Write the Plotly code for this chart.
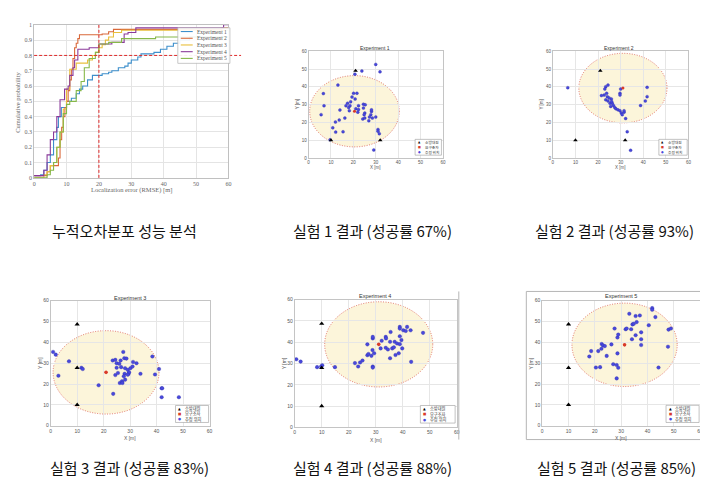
import plotly.graph_objects as go

W, H = 708, 479

# ---- CDF data (step curves) ----
exp1_x = [0, 2, 3, 4, 5, 6, 7, 7.5, 8.4, 10, 11.5, 13, 14, 15, 16.5, 18, 21, 23, 24, 26, 28, 29, 30, 32, 33, 37, 39, 41, 43, 45, 48, 60]
exp1_y = [0.015, 0.02, 0.05, 0.1, 0.15, 0.25, 0.33, 0.4, 0.46, 0.5, 0.52, 0.55, 0.58, 0.6, 0.64, 0.67, 0.68, 0.69, 0.70, 0.72, 0.73, 0.75, 0.77, 0.79, 0.81, 0.82, 0.84, 0.86, 0.88, 0.9, 0.92, 0.92]
exp2_x = [0, 4, 5, 7.5, 8, 8.5, 9, 9.5, 10, 10.5, 11, 11.5, 12, 12.5, 13, 13.5, 14, 21, 23, 24.5, 58, 60]
exp2_y = [0.015, 0.04, 0.08, 0.13, 0.25, 0.33, 0.4, 0.46, 0.5, 0.57, 0.64, 0.71, 0.78, 0.85, 0.88, 0.91, 0.935, 0.94, 0.955, 0.97, 0.98, 0.98]
exp3_x = [0, 3, 4, 5, 6, 7, 8, 9, 10, 11, 13, 16.5, 18, 19, 20, 21, 22, 23, 24.5, 27, 60]
exp3_y = [0.0, 0.02, 0.04, 0.08, 0.1, 0.2, 0.3, 0.45, 0.58, 0.71, 0.75, 0.77, 0.8, 0.82, 0.85, 0.87, 0.9, 0.92, 0.95, 0.965, 0.965]
exp4_x = [0, 3, 4, 5, 6, 7, 8, 9.4, 10.5, 11, 12, 12.5, 13.5, 17, 20, 24, 27.8, 29, 31.4, 58.5, 60]
exp4_y = [0.015, 0.05, 0.15, 0.25, 0.3, 0.4, 0.51, 0.58, 0.6, 0.67, 0.72, 0.77, 0.84, 0.85, 0.875, 0.885, 0.94, 0.95, 0.98, 1.0, 1.0]
exp5_x = [0, 4, 5, 6, 7, 8, 9, 10, 11, 13, 14.5, 15.5, 17, 18.9, 20, 23, 27, 37.5, 60]
exp5_y = [0.0, 0.02, 0.05, 0.1, 0.2, 0.3, 0.42, 0.48, 0.5, 0.57, 0.63, 0.72, 0.78, 0.82, 0.875, 0.885, 0.91, 0.92, 0.92]

cdf_names = ["Experiment 1", "Experiment 2", "Experiment 3", "Experiment 4", "Experiment 5"]
cdf_colors = ["#3d8fcc", "#d9683a", "#e8bf3c", "#8a3a9a", "#86b84a"]

# ---- scatter data ----
ff_x = [[21, 10, 32], [21, 10, 32], [10, 10, 10], [10, 10, 10], [10, 10, 10]]
ff_y = [[49, 10, 10], [49, 10, 10], [48.6, 27.8, 10], [48.7, 28, 10], [48.6, 27.8, 10]]
victim_x = [20.5, 31, 20.9, 31.1, 31.3]
victim_y = [26.3, 39.3, 25.6, 39.0, 38.8]
radius = [20, 19.5, 20, 20, 20]

est1_x = [30.0, 31.9, 23.8, 20.7, 13.1, 6.6, 6.9, 5.6, 10.8, 9.6, 12.1, 15.4, 12.0, 13.7, 14.0, 16.2, 16.7, 17.4, 17.9, 18.2,
          18.8, 18.5, 19.4, 20.1, 20.8, 21.6, 21.1, 22.3, 22.3, 22.0, 24.5, 25.3, 24.5, 25.1, 24.8, 24.2, 25.1, 28.1, 27.8,
          28.1, 27.2, 26.9, 28.5, 30.0, 31.0, 31.0, 31.6, 29.1]
est1_y = [52.6, 48.4, 48.9, 47.1, 41.0, 36.2, 29.4, 24.4, 17.0, 10.3, 14.6, 14.8, 20.3, 21.4, 27.0, 22.5, 29.4, 30.8, 28.4, 26.6,
          31.6, 29.4, 34.3, 36.4, 33.2, 36.4, 27.7, 29.4, 27.3, 25.8, 30.3, 29.9, 28.1, 25.3, 24.4, 22.0, 22.5, 26.2, 24.4,
          27.1, 23.1, 21.0, 22.5, 23.1, 16.1, 15.1, 13.7, 4.6]
est2_x = [6.6, 24.4, 23.4, 23.0, 21.5, 22.7, 23.8, 24.1, 23.4, 24.4, 25.3, 25.9, 26.3, 25.6, 26.8, 27.4, 27.9, 28.8, 29.7, 30.3,
          30.7, 31.5, 31.5, 29.7, 29.7, 30.0, 32.2, 32.9, 34.4, 38.8, 40.9, 41.7, 41.7, 24.9, 26.0]
est2_y = [39.5, 41.0, 40.1, 38.8, 35.1, 35.4, 36.4, 34.5, 32.7, 32.1, 30.8, 33.2, 30.8, 29.0, 29.5, 28.4, 27.7, 27.1, 26.6, 25.3,
          24.4, 25.8, 26.6, 36.4, 35.4, 38.8, 22.2, 14.8, 4.4, 29.5, 32.1, 34.5, 39.7, 33.8, 31.8]
est3_x = [0.9, 1.9, 2.9, 6.9, 11.6, 12.1, 18.1, 23.6, 23.4, 24.4, 24.9, 24.9, 24.4, 25.4, 25.9, 26.4, 26.6, 26.1, 26.9, 27.1,
          27.4, 27.8, 28.1, 27.9, 27.6, 28.1, 28.6, 29.1, 29.4, 29.6, 29.1, 30.1, 30.9, 31.1, 32.4, 33.9, 38.4, 39.4, 40.9,
          41.9, 42.1, 41.9, 48.4]
est3_y = [35.4, 34.1, 24.0, 30.9, 27.8, 27.2, 19.4, 15.3, 31.3, 31.6, 30.0, 27.8, 24.3, 25.3, 29.7, 31.3, 28.1, 20.5, 21.3, 20.5,
          35.4, 32.4, 27.6, 24.9, 23.7, 22.1, 32.2, 26.8, 24.9, 25.6, 24.5, 27.6, 28.4, 30.6, 30.0, 24.9, 33.2, 24.6, 27.2,
          18.0, 18.0, 13.7, 13.7]
est4_x = [0.6, 2.2, 8.3, 9.8, 10.2, 14.9, 22.3, 23.5, 24.2, 25.1, 26.9, 27.3, 26.9, 28.4, 28.8, 28.9, 28.9, 28.9, 28.9, 29.4,
          32.2, 31.8, 33.7, 33.8, 33.7, 34.5, 35.3, 35.5, 35.3, 36.1, 36.7, 37.0, 37.3, 37.9, 38.5, 38.9, 38.9, 38.9, 38.9,
          39.5, 39.8, 40.2, 41.1, 41.6, 42.9, 43.1, 47.5]
est4_y = [32.0, 30.9, 28.3, 28.6, 29.2, 28.3, 30.2, 28.6, 30.5, 31.4, 33.9, 34.5, 39.0, 33.6, 36.3, 41.8, 42.5, 28.6, 28.1, 34.8,
          40.7, 37.1, 42.5, 41.8, 37.4, 36.6, 40.2, 44.8, 32.5, 37.1, 37.6, 40.2, 34.0, 39.4, 34.8, 47.2, 46.4, 42.8, 39.1,
          41.0, 37.1, 45.6, 45.3, 47.2, 45.6, 30.8, 44.4]
est5_x = [17.9, 18.6, 20.4, 21.3, 22.0, 22.6, 22.5, 23.1, 23.8, 24.5, 26.3, 27.0, 27.5, 28.3, 28.6, 28.9, 28.6, 28.9, 28.3, 31.7,
          32.1, 33.1, 33.8, 34.1, 34.3, 34.8, 35.5, 35.5, 35.9, 37.1, 37.6, 37.6, 37.6, 40.5, 41.8, 41.8, 43.0, 44.2, 47.8,
          48.0, 48.9]
est5_y = [33.2, 35.8, 27.9, 35.8, 28.1, 39.2, 36.9, 38.5, 38.2, 33.5, 39.0, 29.5, 46.6, 29.1, 42.3, 43.7, 34.7, 27.8, 22.7, 46.3,
          46.6, 53.7, 46.3, 41.5, 48.6, 48.9, 52.6, 43.4, 49.7, 52.9, 44.8, 41.5, 38.7, 48.2, 56.4, 55.6, 52.1, 27.9, 37.9,
          46.1, 46.6]
est_x = [est1_x, est2_x, est3_x, est4_x, est5_x]
est_y = [est1_y, est2_y, est3_y, est4_y, est5_y]

legend_labels = ["소방대원", "요구조자", "추정 위치"]
captions = ["누적오차분포 성능 분석", "실험 1 결과 (성공률 67%)", "실험 2 결과 (성공률 93%)",
            "실험 3 결과 (성공률 83%)", "실험 4 결과 (성공률 88%)", "실험 5 결과 (성공률 85%)"]


def px(x):
    return x / W


def py(y):
    return 1 - y / H


def note(text, x, y, size, color, family, xanchor="center", **kw):
    # text placed by pixel position
    return dict(text=text, xref="paper", yref="paper", x=px(x), y=py(y), xanchor=xanchor, yanchor="middle",
                showarrow=False, font=dict(family=family, size=size, color=color), **kw)


# axis boxes in pixels: left, right, top, bottom
cdf_box = (24.3, 220, 14, 169)
scatter_boxes = [(300.7, 436, 40.7, 149), (546.7, 683.3, 40.7, 149),
                 (41, 201, 293.3, 420), (286.7, 450, 292.3, 421.7), (536, 695, 293.3, 420)]
title_pos = [(368, 37.5), (613, 37.5), (121, 290.5), (368, 289), (615, 289)]
legend_boxes = [(408, 434.5, 130, 146), (653.5, 682, 130, 146), (166.7, 200, 399.5, 416.7),
                (413.3, 448.3, 399.5, 417.3), (660.7, 694, 399.3, 416.7)]

serif = "Liberation Serif"
sans = "Liberation Sans"
kr = "Noto Sans CJK KR"
red_dash = "#e02828"

fig = go.Figure()

cdf_xs = [exp1_x, exp2_x, exp3_x, exp4_x, exp5_x]
cdf_ys = [exp1_y, exp2_y, exp3_y, exp4_y, exp5_y]
for name, color, xs, ys in zip(cdf_names, cdf_colors, cdf_xs, cdf_ys):
    fig.add_trace(go.Scatter(x=xs, y=ys, name=name, mode="lines", line=dict(color=color, width=1.1, shape="hv"),
                             xaxis="x", yaxis="y", showlegend=False))

layout = dict(width=W, height=H, margin=dict(l=0, r=0, t=0, b=0), paper_bgcolor="white",
              plot_bgcolor="white", showlegend=False)

cdf_axis = dict(showgrid=True, gridcolor="#e4e4e4", gridwidth=0.6, showline=True, linecolor="#c0c0c0",
                linewidth=0.7, mirror=True, zeroline=False, ticks="", ticklen=0,
                tickfont=dict(family=serif, size=6, color="#666"))
l, r, t, b = cdf_box
layout["xaxis"] = dict(domain=[px(l), px(r)], range=[0, 60], dtick=10, anchor="y", **cdf_axis)
layout["yaxis"] = dict(domain=[py(b), py(t)], range=[0, 1], dtick=0.1, anchor="x", **cdf_axis)

shapes = []
annotations = []

# reference lines
shapes.append(dict(type="line", xref="x", yref="y", x0=20, x1=20, y0=0, y1=1,
                   line=dict(color=red_dash, width=1, dash="3px,2px")))
shapes.append(dict(type="line", xref="x domain", yref="y", x0=0, x1=1.065, y0=0.8, y1=0.8,
                   line=dict(color=red_dash, width=1, dash="3px,2px")))

# CDF legend
shapes.append(dict(type="rect", xref="paper", yref="paper", x0=px(169), x1=px(221.5), y0=py(53), y1=py(17),
                   line=dict(color="#b0b0b0", width=0.7), fillcolor="rgba(255,255,255,0.92)", layer="above"))
for i, (name, color) in enumerate(zip(cdf_names, cdf_colors)):
    yy = 20.8 + i * 6.8
    shapes.append(dict(type="line", xref="paper", yref="paper", x0=px(172), x1=px(184), y0=py(yy), y1=py(yy),
                       line=dict(color=color, width=1.1), layer="above"))
    annotations.append(note(name, 186, yy, 5.5, "#555", serif, xanchor="left"))

annotations.append(note("Localization error (RMSE) [m]", 122, 181, 6.5, "#666", serif))
annotations.append(note("Cumulative probability", 8, 92, 6.5, "#666", serif, textangle=-90))

# scatter panels
for i in range(5):
    n = i + 2
    xa, ya = f"x{n}", f"y{n}"
    l, r, t, b = scatter_boxes[i]
    small = 4.5 if i < 2 else 5
    axis_common = dict(range=[0, 60], dtick=10, showgrid=True, gridcolor="#e6e6e6", gridwidth=0.6,
                       showline=True, linecolor="#c4c4c4", linewidth=0.7, mirror=True, zeroline=False,
                       ticks="", ticklen=0, tickfont=dict(family=sans, size=small, color="#555"))
    layout[f"xaxis{n}"] = dict(domain=[px(l), px(r)], anchor=ya, **axis_common)
    layout[f"yaxis{n}"] = dict(domain=[py(b), py(t)], anchor=xa, **axis_common)

    cx, cy, rr = victim_x[i], victim_y[i], radius[i]
    shapes.append(dict(type="circle", xref=xa, yref=ya, x0=cx - rr, x1=cx + rr, y0=cy - rr, y1=cy + rr,
                       fillcolor="rgba(252,243,212,0.85)", line=dict(color="#d9564a", width=0.8, dash="1px,1.5px"),
                       layer="below"))

    msize = 3.0 if i < 2 else 3.6
    fig.add_trace(go.Scatter(x=est_x[i], y=est_y[i], mode="markers", xaxis=xa, yaxis=ya,
                             marker=dict(size=msize, color="#4848dc", line=dict(color="#2a2aa0", width=0.3))))
    fig.add_trace(go.Scatter(x=ff_x[i], y=ff_y[i], mode="markers", xaxis=xa, yaxis=ya,
                             marker=dict(symbol="triangle-up", size=msize + 1.0, color="black")))
    fig.add_trace(go.Scatter(x=[victim_x[i]], y=[victim_y[i]], mode="markers", xaxis=xa, yaxis=ya,
                             marker=dict(symbol="circle", size=msize, color="#d93a2a")))

    tx, ty = title_pos[i]
    annotations.append(note(f"Experiment {i + 1}", tx, ty, small + 0.5, "#333", sans))
    annotations.append(note("X [m]", (l + r) / 2, b + (9.5 if i < 2 else 12.5), small, "#555", sans))
    annotations.append(note("Y [m]", l - 11, (t + b) / 2, small, "#555", sans, textangle=-90))

    ll, lr, lt, lb = legend_boxes[i]
    shapes.append(dict(type="rect", xref="paper", yref="paper", x0=px(ll), x1=px(lr), y0=py(lb), y1=py(lt),
                       line=dict(color="#9a9a9a", width=0.6), fillcolor="white", layer="above"))
    step = (lb - lt) / 3.2
    syms = [("▲", "black"), ("■", "#d93a2a"), ("●", "#4848dc")]
    for k, label in enumerate(legend_labels):
        yy = lt + step * (k + 0.6)
        sym, col = syms[k]
        annotations.append(note(sym, ll + 4, yy, small - 1.5, col, "DejaVu Sans"))
        annotations.append(note(label, ll + 7.5, yy, small - 0.8, "#333", kr, xanchor="left"))

# screenshot frames around the last two panels
shapes.append(dict(type="line", xref="paper", yref="paper", x0=px(452), x1=px(452), y0=py(434), y1=py(284),
                   line=dict(color="#b5b5b5", width=1)))
shapes.append(dict(type="rect", xref="paper", yref="paper", x0=px(520), x1=px(703), y0=py(434), y1=py(284),
                   line=dict(color="#b5b5b5", width=1)))

# captions
cap_pos = [(115, 222), (365, 222), (609, 222), (120, 462), (365, 462), (611, 462)]
for text, (cx, cy) in zip(captions, cap_pos):
    annotations.append(note(text, cx, cy, 15, "#111", kr))

layout["shapes"] = shapes
layout["annotations"] = annotations
fig.update_layout(**layout)

fig.write_html("out.html")
